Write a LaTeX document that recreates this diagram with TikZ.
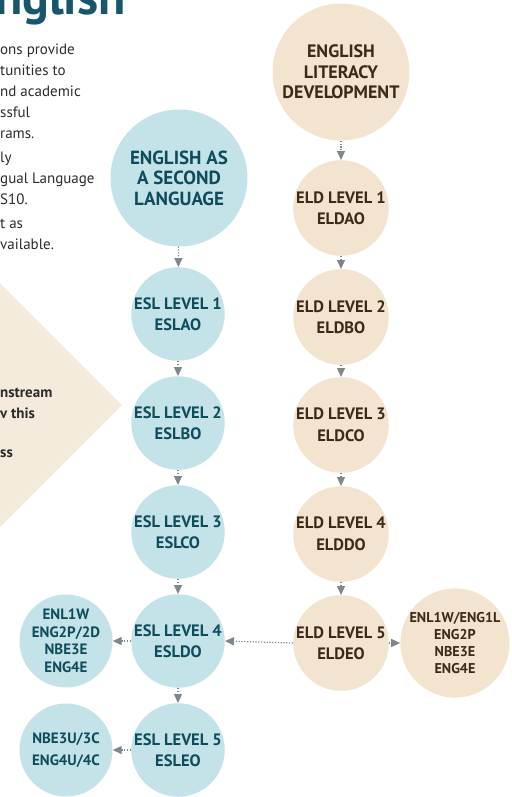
\documentclass[tikz,border=0pt]{standalone}
\usepackage{fontspec}
\setmainfont{PT Sans}
\usepackage{tikz}
\usetikzlibrary{arrows.meta}
\definecolor{eslfill}{HTML}{C3E3E8}
\definecolor{esltext}{HTML}{0E4C5C}
\definecolor{eldfill}{HTML}{F2E4CF}
\definecolor{eldtext}{HTML}{3A2A17}
\definecolor{linkgray}{HTML}{7F868C}
\definecolor{titleteal}{HTML}{17566B}
\definecolor{bodytext}{HTML}{2B2B2B}
\definecolor{trifill}{HTML}{F5EBDD}
\begin{document}
\begin{tikzpicture}[x=1pt,y=-1pt,
  lvl/.style={circle,inner sep=0pt,minimum size=93pt,align=center,font=\bfseries\fontsize{16.5}{21.5}\selectfont},
  outc/.style={lvl,font=\bfseries\fontsize{15}{17.5}\selectfont},
  head/.style={circle,inner sep=0pt,minimum size=137pt,align=center,font=\bfseries\fontsize{18}{20.5}\selectfont},
  esl/.style={fill=eslfill,text=esltext},
  eld/.style={fill=eldfill,text=eldtext},
  link/.style={draw=linkgray,line width=1.2pt,dash pattern=on 1.2pt off 1.6pt,-{Triangle[width=8pt,length=9pt]}},
  body/.style={anchor=base west,inner sep=0pt,align=left,text=bodytext,font=\fontsize{15}{21}\selectfont}]
\useasboundingbox (0,0) rectangle (511,797);
% text cut off on the left (base = last line)
\node[anchor=base east,inner sep=0pt,text=titleteal,font=\bfseries\fontsize{50}{50}\selectfont] (title) at (126,15) {English};
\node[body] (para1) at (0,139) {ons provide\\tunities to\\nd academic\\ssful\\rams.};
\node[body] (para2) at (0,204) {ly\\gual Language\\S10.};
\node[body] (para3) at (0,249) {t as\\vailable.};
\fill[trifill] (-5,278) -- (122,405) -- (-5,532) -- cycle;
\node[body,font=\bfseries\fontsize{15}{21}\selectfont] (tri1) at (0,418) {nstream\\v this};
\node[body,font=\bfseries\fontsize{15}{21}\selectfont] (tri2) at (0,457) {ss};
% ESL column
\node[head,esl,font=\bfseries\fontsize{19}{20.5}\selectfont] (esl) at (179,178) {ENGLISH AS\\A SECOND\\LANGUAGE};
\node[lvl,esl] (esl1) at (178,314) {ESL LEVEL 1\\ESLAO};
\node[lvl,esl] (esl2) at (178,423) {ESL LEVEL 2\\ESLBO};
\node[lvl,esl] (esl3) at (178,532) {ESL LEVEL 3\\ESLCO};
\node[lvl,esl] (esl4) at (178,641) {ESL LEVEL 4\\ESLDO};
\node[lvl,esl] (esl5) at (178,750) {ESL LEVEL 5\\ESLEO};
\node[outc,esl] (outa) at (66,641) {ENL1W\\ENG2P/2D\\NBE3E\\ENG4E};
\node[lvl,esl,font=\bfseries\fontsize{15}{21.5}\selectfont] (outb) at (66,750) {NBE3U/3C\\ENG4U/4C};
% ELD column
\node[head,eld] (eld) at (341,72) {ENGLISH\\LITERACY\\DEVELOPMENT};
\node[lvl,eld] (eld1) at (341,208) {ELD LEVEL 1\\ELDAO};
\node[lvl,eld] (eld2) at (341,317) {ELD LEVEL 2\\ELDBO};
\node[lvl,eld] (eld3) at (341,425) {ELD LEVEL 3\\ELDCO};
\node[lvl,eld] (eld4) at (341,534) {ELD LEVEL 4\\ELDDO};
\node[lvl,eld] (eld5) at (341,643) {ELD LEVEL 5\\ELDEO};
\node[outc,eld,font=\bfseries\fontsize{14.2}{16.7}\selectfont] (outc) at (455,643) {ENL1W/ENG1L\\ENG2P\\NBE3E\\ENG4E};
% arrows
\draw[link] (esl) -- (esl1);
\draw[link] (esl1) -- (esl2);
\draw[link] (esl2) -- (esl3);
\draw[link] (esl3) -- (esl4);
\draw[link] (esl4) -- (esl5);
\draw[link] (eld) -- (eld1);
\draw[link] (eld1) -- (eld2);
\draw[link] (eld2) -- (eld3);
\draw[link] (eld3) -- (eld4);
\draw[link] (eld4) -- (eld5);
\draw[link] (eld5.west) -- (esl4.east);
\draw[link] (esl4) -- (outa);
\draw[link] (esl5) -- (outb);
\draw[link] (eld5) -- (outc);
\end{tikzpicture}
\end{document}
